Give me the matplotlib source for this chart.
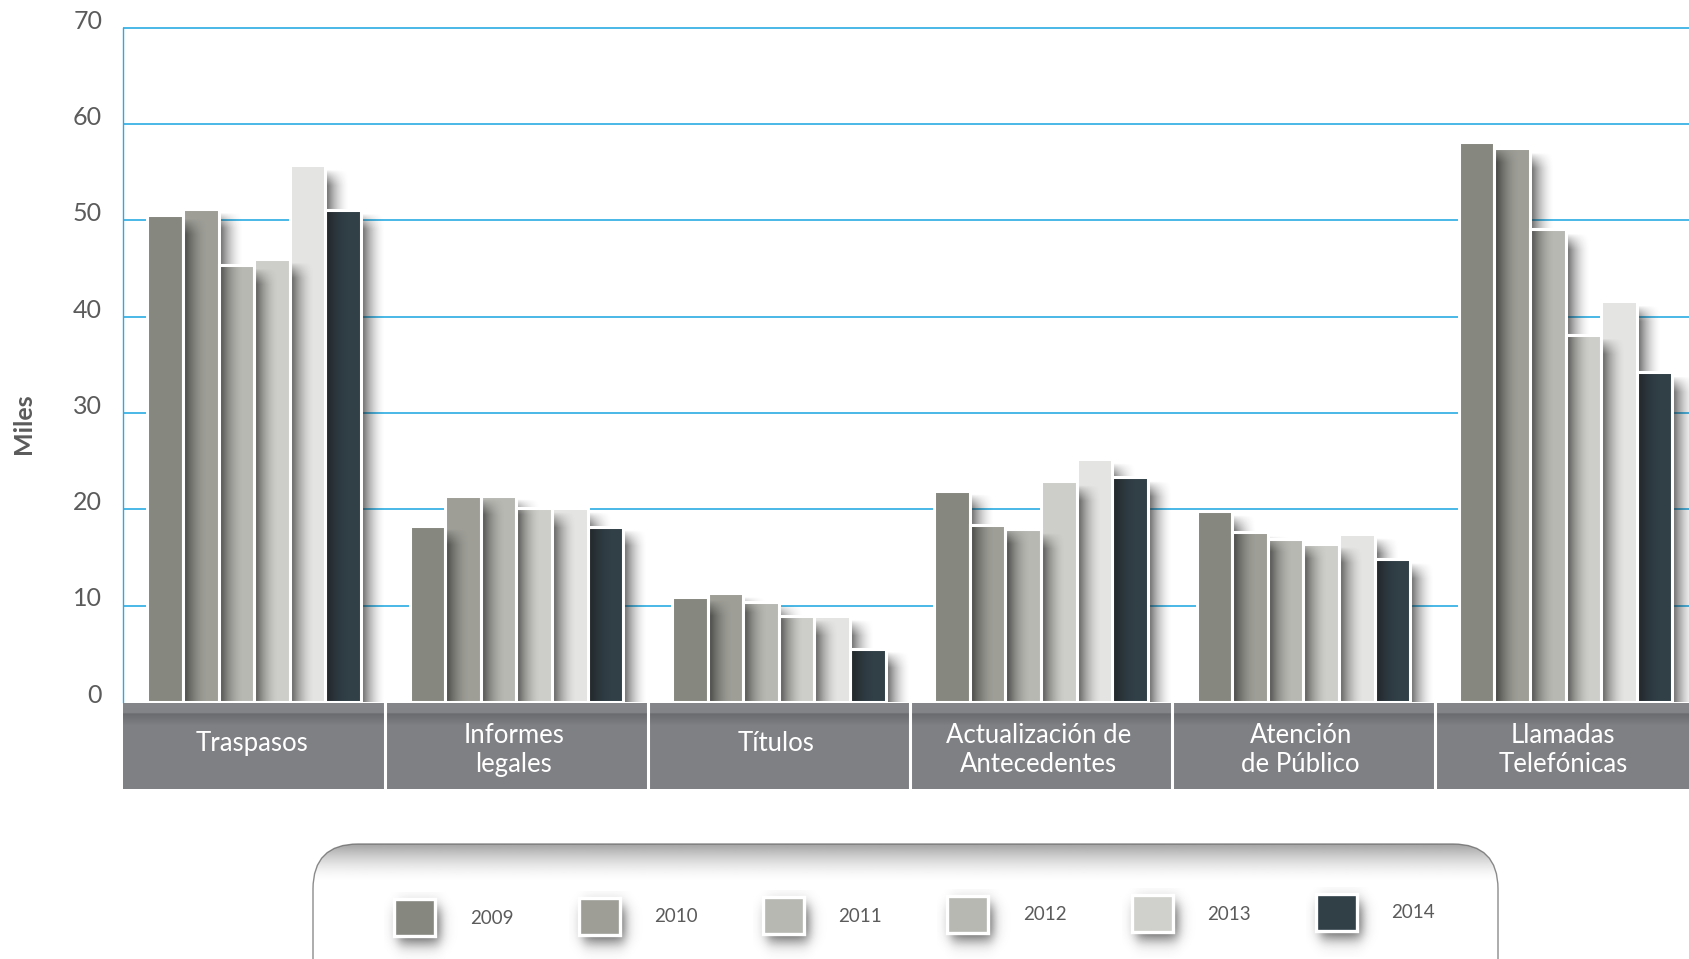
import numpy as np
import matplotlib.pyplot as plt
from matplotlib.patches import Rectangle, FancyBboxPatch
from matplotlib.transforms import ScaledTranslation
from matplotlib.colors import to_rgb

plt.rcParams['font.family'] = ['Lato', 'DejaVu Sans']

# data (miles)
categories = ['Traspasos', 'Informes\nlegales', 'Títulos', 'Actualización de\nAntecedentes',
              'Atención\nde Público', 'Llamadas\nTelefónicas']
years = ['2009', '2010', '2011', '2012', '2013', '2014']
v2009 = [50.6, 18.3, 10.9, 21.9, 19.8, 58.1]
v2010 = [51.2, 21.4, 11.3, 18.4, 17.6, 57.5]
v2011 = [45.4, 21.4, 10.4, 17.9, 16.9, 49.1]
v2012 = [46.0, 20.1, 8.9, 22.9, 16.4, 38.1]
v2013 = [55.7, 20.1, 8.9, 25.2, 17.4, 41.6]
v2014 = [51.1, 18.2, 5.5, 23.3, 14.8, 34.2]
yticks = [0, 10, 20, 30, 40, 50, 60, 70]

bar_colors = ['#868880', '#9e9e97', '#b8b8b3', '#cdcdc9', '#e4e4e2', '#313f47']
legend_colors = ['#868880', '#9e9e97', '#b8b8b3', '#b8b8b3', '#d0d0cc', '#313f47']
grid_blue = '#29abe2'
text_gray = '#5b5b5b'

W, H = 1690, 959
fig = plt.figure(figsize=(W / 100, H / 100), dpi=100)

# main plot area: 0 at y=701.8px, 10 units = 96.3px, one group = 262.3px
unit = 96.3
ax = fig.add_axes([123 / W, 1 - 701.8 / H, 6 * 262.3 / W, 7.1 * unit / H])
ax.set_xlim(-0.5, 5.5)
ax.set_ylim(0, 71)

for t in yticks[1:]:
    ax.axhline(t, color=grid_blue, lw=1.2, zorder=1)

series = [v2009, v2010, v2011, v2012, v2013, v2014]
x = np.arange(len(categories))
bw = 0.1357
sw = 0.09


def bar_shadow(x0, top):
    ny, nx = 300, 40
    gx = (1 - np.linspace(0, 1, nx)) ** 1.8
    yv = np.linspace(0, top, ny)
    gy = np.clip((top - yv) / 1.6, 0, 1) ** 0.8
    arr = np.zeros((ny, nx, 4))
    arr[..., :3] = 0.1
    arr[..., 3] = 0.65 * gy[:, None] * gx[None, :]
    ax.imshow(arr, extent=[x0, x0 + sw, 0, top], origin='lower', aspect='auto',
              interpolation='bilinear', zorder=4)


for j, vals in enumerate(series):
    xs = x + (j - 2.5) * bw
    ax.bar(xs, vals, width=bw, color=bar_colors[j], linewidth=0, zorder=3)
    for xi, v in zip(xs, vals):
        bar_shadow(xi + bw / 2 + 0.004, v - 0.4)
for j, vals in enumerate(series):
    xs = x + (j - 2.5) * bw
    ax.bar(xs, vals, width=bw, fill=False, edgecolor='white', linewidth=2.2, zorder=5)

ax.set_xlim(-0.5, 5.5)
ax.set_ylim(0, 71)
ax.set_xticks([])
ax.set_yticks(yticks)
ax.set_yticklabels([str(t) for t in yticks], fontsize=18, color=text_gray)
ax.tick_params(axis='y', length=0, pad=15)
off = ScaledTranslation(0, 0.085, fig.dpi_scale_trans)
for lab in ax.get_yticklabels():
    lab.set_transform(lab.get_transform() + off)
for s in ['top', 'right', 'bottom']:
    ax.spines[s].set_visible(False)
ax.spines['left'].set_color(grid_blue)
ax.spines['left'].set_linewidth(1.0)
ax.spines['left'].set_bounds(0, 70)
ax.set_facecolor('none')

fig.text(23.7 / W, 1 - 423.6 / H, 'Miles', rotation=90, ha='center', va='center',
         fontsize=18, fontweight='bold', color=text_gray)

# category strip
sx = fig.add_axes([123 / W, 1 - 789 / H, 6 * 262.3 / W, 86 / H])
sx.set_xlim(-0.5, 5.5)
sx.set_ylim(0, 1)
stops = [0, 9, 10.5, 13, 22, 86]
cols = [to_rgb(c) for c in ['#858689', '#838488', '#6a6b6f', '#6f7074', '#7f8084', '#808185']]
py = np.arange(86)
grad = np.zeros((86, 1, 3))
for k in range(3):
    grad[:, 0, k] = np.interp(py, stops, [c[k] for c in cols])
sx.imshow(grad, extent=[-0.5, 5.5, 0, 1], origin='upper', aspect='auto', interpolation='bilinear')
for b in np.arange(0.5, 5.5, 1):
    sx.axvline(b, color='white', lw=2.2)
for i, cat in enumerate(categories):
    yy = 0.45 if '\n' in cat else 0.53
    sx.text(i - 0.01, yy, cat, ha='center', va='center', color='white', fontsize=18.5,
            linespacing=1.2)
sx.axis('off')

# legend (pixel coordinates)
lx = fig.add_axes([0, 0, 1, 1], zorder=-1)
lx.set_xlim(0, W)
lx.set_ylim(H, 0)
lx.axis('off')
box = FancyBboxPatch((313, 844), 1185, 200, boxstyle='round,pad=0,rounding_size=45',
                     fc='white', ec='#8c8c8c', lw=1.0, zorder=1)
lx.add_patch(box)
g = np.zeros((40, 1, 4))
g[..., :3] = 0.4
g[:, 0, 3] = 0.6 * (1 - np.linspace(0, 1, 40)) ** 1.6
im = lx.imshow(g, extent=(313, 1498, 882, 844), origin='upper', aspect='auto',
               interpolation='bilinear', zorder=2)
im.set_clip_path(box)


def soft(t, a, b, s):
    return 1 / (1 + np.exp(-(t - a) / s)) * 1 / (1 + np.exp((t - b) / s))


for i, (yr, c) in enumerate(zip(years, legend_colors)):
    x0 = 394.5 + i * 184.3
    yc = 917 - i * 1.0
    # blurred drop shadow
    px = np.linspace(x0 - 10, x0 + 65, 80)
    pyy = np.linspace(yc - 25, yc + 45, 80)
    sh = np.zeros((80, 80, 4))
    sh[..., :3] = 0.15
    sh[..., 3] = 0.75 * soft(pyy, yc - 10, yc + 26, 4.5)[:, None] * soft(px, x0 + 4, x0 + 46, 3.5)[None, :]
    lx.imshow(sh, extent=(px[0], px[-1], pyy[-1], pyy[0]), origin='upper', aspect='auto',
              interpolation='bilinear', zorder=3)
    lx.add_patch(Rectangle((x0, yc - 18.5), 41, 37, fc=c, ec='white', lw=2.4, zorder=4))
    lx.text(x0 + 75.5, yc + 1, yr, ha='left', va='center', fontsize=13.5, color=text_gray,
            zorder=5)
lx.set_xlim(0, W)
lx.set_ylim(H, 0)

fig.savefig('out.png', dpi=100, facecolor='white')
